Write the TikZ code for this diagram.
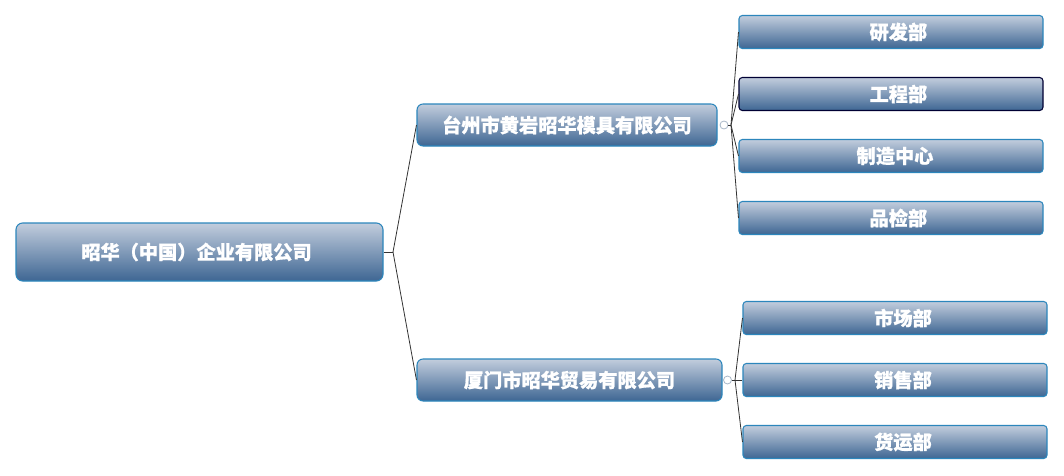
\documentclass[tikz,border=0pt]{standalone}
\usepackage{fontspec}
\setmainfont{Noto Sans CJK SC}[BoldFeatures={FakeBold=0.8}]
\definecolor{boxtop}{HTML}{C2CDDD}
\definecolor{boxbot}{HTML}{3E6693}
\definecolor{boxline}{HTML}{2C86BC}
\definecolor{wire}{HTML}{333333}
\definecolor{knob}{HTML}{A9B8C8}
\newcommand{\shiftr}[1]{\hspace*{#1}}
\tikzset{
  box/.style={draw=boxline, line width=0.8pt, top color=boxtop, bottom color=boxbot,
    text=white, font=\fontsize{14.4pt}{16pt}\selectfont\bfseries, inner sep=0pt, align=center},
  rootbox/.style={box, rounded corners=5pt, minimum width=275.25pt, minimum height=43.5pt},
  midbox/.style={box, rounded corners=4.5pt, minimum height=31.5pt},
  leafbox/.style={box, rounded corners=2.5pt, minimum width=228pt, minimum height=24.75pt},
  wireline/.style={draw=wire, line width=0.6pt},
  knobc/.style={circle, draw=knob, fill=white, line width=0.6pt, inner sep=0pt, minimum size=6pt}
}
\begin{document}
\begin{tikzpicture}[x=0.75pt,y=-0.75pt]
\useasboundingbox (0,0) rectangle (1064,475);
\fill[white] (0,0) rectangle (1064,475);
% nodes
\node[rootbox] (root) at (199.5,252) {昭华（中国）企业有限公司\shiftr{4.5pt}};
\node[midbox, minimum width=225pt] (m1) at (567,125) {台州市黄岩昭华模具有限公司};
\node[midbox, minimum width=228.75pt] (m2) at (569.5,380) {厦门市昭华贸易有限公司};
\node[leafbox] (a1) at (891,32) {\shiftr{11pt}研发部};
\node[leafbox, draw=black!80!blue] (a2) at (891,94) {\shiftr{11pt}工程部};
\node[leafbox] (a3) at (891,156) {\shiftr{6pt}制造中心};
\node[leafbox] (a4) at (891,218) {\shiftr{11pt}品检部};
\node[leafbox] (b1) at (895,318) {\shiftr{12pt}市场部};
\node[leafbox] (b2) at (895,380) {\shiftr{12pt}销售部};
\node[leafbox] (b3) at (895,442) {\shiftr{12pt}货运部};
% junctions
\coordinate (rj) at (393,252);
\node[knobc] (k1) at (724,125) {};
\node[knobc] (k2) at (727.5,380) {};
\coordinate (j1) at (731,125);
\coordinate (j2) at (735,380);
% connectors
\draw[wireline] (root.east) -- (rj);
\draw[wireline] (rj) -- (m1.west);
\draw[wireline] (rj) -- (m2.west);
\draw[wireline] (k1.east) -- (j1);
\draw[wireline] (k2.east) -- (j2);
\foreach \n in {a1,a2,a3,a4}{\draw[wireline] (j1) -- (\n.west);}
\foreach \n in {b1,b2,b3}{\draw[wireline] (j2) -- (\n.west);}
\end{tikzpicture}
\end{document}
